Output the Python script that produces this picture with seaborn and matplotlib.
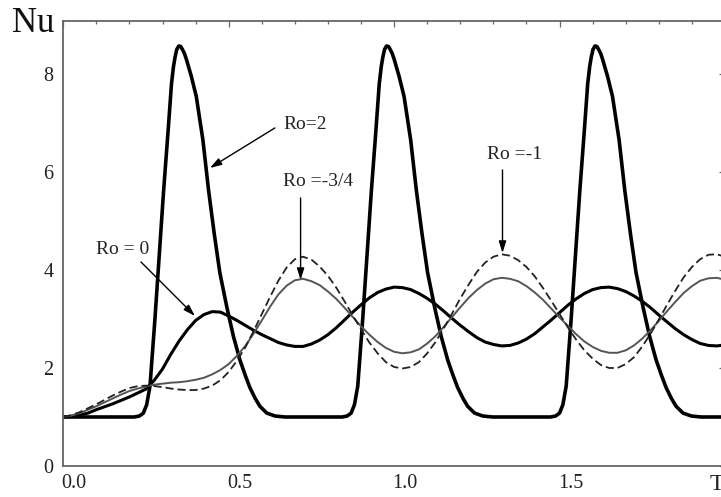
import numpy as np
import pandas as pd
import matplotlib
matplotlib.use("Agg")
import matplotlib.pyplot as plt
from matplotlib.transforms import ScaledTranslation
from matplotlib.ticker import MultipleLocator, FixedLocator
import seaborn as sns

# ---------------- data ----------------
t_grid = [round(0.025 * i, 3) for i in range(81)]

nu_ro0 = [1.00, 1.01, 1.04, 1.08, 1.15, 1.21, 1.27, 1.34, 1.41, 1.49,
          1.57, 1.75, 1.98, 2.28, 2.55, 2.78, 2.97, 3.09, 3.15, 3.14,
          3.06, 2.97, 2.87, 2.77, 2.68, 2.60, 2.52, 2.47, 2.44, 2.44,
          2.49, 2.57, 2.68, 2.82, 2.98, 3.14, 3.29, 3.43, 3.54, 3.61,
          3.65, 3.64, 3.60, 3.52, 3.42, 3.30, 3.16, 3.01, 2.87, 2.74,
          2.62, 2.53, 2.48, 2.45, 2.46, 2.51, 2.59, 2.70, 2.84, 2.98,
          3.13, 3.28, 3.41, 3.52, 3.60, 3.64, 3.65, 3.62, 3.56, 3.47,
          3.36, 3.23, 3.08, 2.94, 2.80, 2.68, 2.58, 2.50, 2.46, 2.45,
          2.47]

nu_ro_m34 = [1.00, 1.03, 1.08, 1.15, 1.22, 1.30, 1.38, 1.46, 1.53, 1.58,
             1.62, 1.66, 1.68, 1.70, 1.71, 1.73, 1.76, 1.80, 1.87, 1.96,
             2.08, 2.25, 2.45, 2.70, 2.97, 3.25, 3.50, 3.68, 3.79, 3.82,
             3.77, 3.69, 3.56, 3.41, 3.23, 3.04, 2.85, 2.68, 2.53, 2.41,
             2.33, 2.30, 2.32, 2.38, 2.50, 2.65, 2.84, 3.04, 3.24, 3.43,
             3.59, 3.72, 3.81, 3.84, 3.82, 3.77, 3.67, 3.54, 3.39, 3.21,
             3.03, 2.86, 2.69, 2.54, 2.43, 2.35, 2.31, 2.31, 2.36, 2.46,
             2.60, 2.77, 2.96, 3.16, 3.35, 3.53, 3.67, 3.78, 3.83, 3.84,
             3.80]

nu_ro_m1 = [1.00, 1.04, 1.10, 1.18, 1.26, 1.35, 1.44, 1.52, 1.59, 1.63,
            1.64, 1.63, 1.61, 1.58, 1.56, 1.55, 1.55, 1.58, 1.64, 1.75,
            1.92, 2.15, 2.42, 2.75, 3.10, 3.45, 3.78, 4.05, 4.22, 4.27,
            4.21, 4.07, 3.88, 3.64, 3.36, 3.07, 2.79, 2.52, 2.30, 2.12,
            2.02, 1.99, 2.02, 2.12, 2.30, 2.53, 2.81, 3.11, 3.42, 3.70,
            3.96, 4.15, 4.27, 4.32, 4.29, 4.20, 4.06, 3.87, 3.63, 3.37,
            3.10, 2.83, 2.58, 2.36, 2.19, 2.06, 2.00, 2.00, 2.08, 2.22,
            2.44, 2.70, 2.99, 3.29, 3.58, 3.85, 4.06, 4.22, 4.31, 4.32,
            4.27]

t_ro2 = [0.000, 0.100,
         0.215, 0.230, 0.242, 0.252, 0.262, 0.277, 0.290, 0.303, 0.317, 0.327,
         0.333, 0.338, 0.343, 0.349, 0.355, 0.360, 0.366, 0.372, 0.387, 0.402,
         0.422, 0.439, 0.456, 0.473,
         0.494, 0.514, 0.534, 0.550, 0.564, 0.580, 0.594, 0.615, 0.640, 0.670,
         0.750,
         0.843, 0.858, 0.870, 0.880, 0.890, 0.905, 0.918, 0.931, 0.945, 0.955,
         0.961, 0.966, 0.971, 0.977, 0.983, 0.988, 0.994, 1.000, 1.015, 1.030,
         1.050, 1.067, 1.084, 1.101,
         1.122, 1.142, 1.162, 1.178, 1.192, 1.208, 1.222, 1.243, 1.268, 1.298,
         1.390,
         1.473, 1.488, 1.500, 1.510, 1.520, 1.535, 1.548, 1.561, 1.575, 1.585,
         1.591, 1.596, 1.601, 1.607, 1.613, 1.618, 1.624, 1.630, 1.645, 1.660,
         1.680, 1.697, 1.714, 1.731,
         1.752, 1.772, 1.792, 1.808, 1.822, 1.838, 1.852, 1.873, 1.898, 1.928,
         2.000]
nu_ro2 = [1.00, 1.00,
          1.00, 1.02, 1.08, 1.25, 1.63, 3.00, 4.30, 5.60, 6.86, 7.80,
          8.15, 8.35, 8.50, 8.57, 8.56, 8.50, 8.42, 8.30, 7.95, 7.54,
          6.65, 5.63, 4.75, 3.95,
          3.25, 2.65, 2.16, 1.85, 1.60, 1.38, 1.22, 1.08, 1.02, 1.00,
          1.00,
          1.00, 1.02, 1.08, 1.25, 1.63, 3.00, 4.30, 5.60, 6.86, 7.80,
          8.15, 8.35, 8.50, 8.57, 8.56, 8.50, 8.42, 8.30, 7.95, 7.54,
          6.65, 5.63, 4.75, 3.95,
          3.25, 2.65, 2.16, 1.85, 1.60, 1.38, 1.22, 1.08, 1.02, 1.00,
          1.00,
          1.00, 1.02, 1.08, 1.25, 1.63, 3.00, 4.30, 5.60, 6.86, 7.80,
          8.15, 8.35, 8.50, 8.57, 8.56, 8.50, 8.42, 8.30, 7.95, 7.54,
          6.65, 5.63, 4.75, 3.95,
          3.25, 2.65, 2.16, 1.85, 1.60, 1.38, 1.22, 1.08, 1.02, 1.00,
          1.00]

x_tick_values = [0.0, 0.5, 1.0, 1.5]
x_tick_labels = ["0.0", "0.5", "1.0", "1.5"]
y_tick_values = [0, 2, 4, 6, 8]
y_tick_labels = ["0", "2", "4", "6", "8"]

# ---------------- style ----------------
sns.set_style("white")
plt.rcParams["font.family"] = ["Liberation Serif", "DejaVu Serif"]

W, H, DPI = 721, 497, 100
fig = plt.figure(figsize=(W / DPI, H / DPI), dpi=DPI)
ax_left, ax_bottom, ax_top, ax_right = 63.3, 466.0, 21.0, 725.0
ax = fig.add_axes([ax_left / W, (H - ax_bottom) / H,
                   (ax_right - ax_left) / W, (ax_bottom - ax_top) / H])

df_grid = pd.DataFrame({"T": t_grid, "ro0": nu_ro0, "ro_m34": nu_ro_m34, "ro_m1": nu_ro_m1})
df_ro2 = pd.DataFrame({"T": t_ro2, "Nu": nu_ro2})

sns.lineplot(data=df_ro2, x="T", y="Nu", ax=ax, color="black", lw=2.6,
             estimator=None, sort=False)
sns.lineplot(data=df_grid, x="T", y="ro0", ax=ax, color="black", lw=2.2,
             estimator=None, sort=False)
sns.lineplot(data=df_grid, x="T", y="ro_m34", ax=ax, color="#555555", lw=1.4,
             estimator=None, sort=False)
sns.lineplot(data=df_grid, x="T", y="ro_m1", ax=ax, color="#222222", lw=1.3,
             estimator=None, sort=False)
ax.lines[-1].set_dashes([4.5, 2.2])
for ln in ax.lines:
    ln.set_solid_capstyle("round")
    ln.set_solid_joinstyle("round")

ax.set_xlim(0, 2.0)
ax.set_ylim(0, 9.08)
ax.set_xlabel("")
ax.set_ylabel("")

ax.xaxis.set_major_locator(FixedLocator(x_tick_values))
ax.set_xticklabels(x_tick_labels)
ax.yaxis.set_major_locator(FixedLocator(y_tick_values))
ax.set_yticklabels(y_tick_labels)
ax.xaxis.set_minor_locator(MultipleLocator(0.1))
ax.yaxis.set_minor_locator(MultipleLocator(0.5))
ax.tick_params(which="both", direction="in", top=True, right=True,
               color="#666666", width=0.9)
ax.tick_params(which="major", length=4.5)
ax.tick_params(which="minor", length=2.5)
ax.tick_params(axis="x", labelsize=14.5, pad=6, labelcolor="#222222")
ax.tick_params(axis="y", labelsize=14.5, pad=7, labelcolor="#222222")
for lab in ax.get_xticklabels():
    lab.set_transform(lab.get_transform() + ScaledTranslation(0.11, 0, fig.dpi_scale_trans))

for s in ax.spines.values():
    s.set_color("#666666")
    s.set_linewidth(1.3)

# ---------------- annotations ----------------
def px2data(px, py):
    return ((px - ax_left) / 331.0, (ax_bottom - py) / 49.0)

arrow_kw = dict(arrowstyle="-|>,head_length=0.7,head_width=0.22", color="black",
                lw=1.0, shrinkA=0, shrinkB=0)
fs = 14

ax.text(*px2data(283, 125), "Ro=2", fontsize=fs, ha="left", va="center", color="#222222")
ax.annotate("", xy=px2data(210, 168), xytext=px2data(275, 128), arrowprops=arrow_kw)

ax.text(*px2data(283, 182), "Ro =-3/4", fontsize=fs, ha="left", va="center", color="#222222")
ax.annotate("", xy=px2data(300.7, 280), xytext=px2data(300.7, 198), arrowprops=arrow_kw)

ax.text(*px2data(487, 155), "Ro =-1", fontsize=fs, ha="left", va="center", color="#222222")
ax.annotate("", xy=px2data(502.7, 253), xytext=px2data(502.7, 170), arrowprops=arrow_kw)

ax.text(*px2data(96, 250), "Ro = 0", fontsize=fs, ha="left", va="center", color="#222222")
ax.annotate("", xy=px2data(195, 316), xytext=px2data(141, 262), arrowprops=arrow_kw)

fig.text(12 / W, 1 - 23 / H, "Nu", fontsize=25, ha="left", va="center", color="#111111")
fig.text(710 / W, 1 - 484 / H, "T", fontsize=17, ha="left", va="center", color="#222222")

fig.savefig("out.png", dpi=DPI, facecolor="white")
